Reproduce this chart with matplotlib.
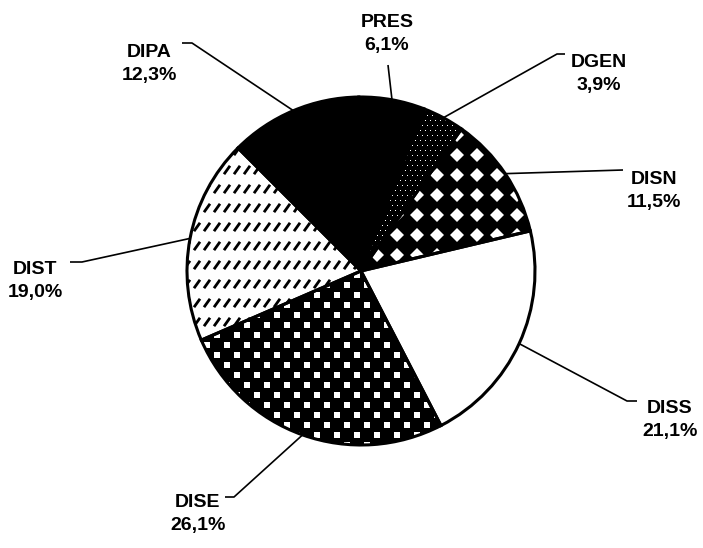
import numpy as np
import matplotlib.pyplot as plt
from matplotlib.collections import LineCollection

# %% data

labels = ['DIPA', 'PRES', 'DGEN', 'DISN', 'DISS', 'DISE', 'DIST']
shares = [12.3, 6.1, 3.9, 11.5, 21.1, 26.1, 19.0]

# fill of each slice: base colour + texture drawn on top
base_colors = ['black', 'black', 'black', 'black', 'white', 'black', 'white']
textures = [None, None, 'dots', 'diamonds', None, 'squares', 'dashes']

# label block centre and leader line bends, in pixels (y down)
label_xy = {'DIPA': (149, 64), 'PRES': (387, 34), 'DGEN': (599, 74),
            'DISN': (654, 191), 'DISS': (670, 420), 'DISE': (198, 514),
            'DIST': (35, 281)}
leader_pts = {'DIPA': [(192, 43), (182, 43)], 'PRES': [(388, 65)],
              'DGEN': [(557, 54), (565, 54)], 'DISN': [(623, 170)],
              'DISS': [(627, 401), (637, 401)], 'DISE': [(234, 497), (225, 497)],
              'DIST': [(82, 262), (70, 262)]}

# %% figure

W, H, dpi = 703, 548, 100
fig = plt.figure(figsize=(W / dpi, H / dpi), dpi=dpi)
ax = fig.add_axes([0, 0, 1, 1])

cx, cy, R = 361, H - 271, 174

wedges, _ = ax.pie(shares, startangle=135, counterclock=False, center=(cx, cy),
                   radius=R, colors=base_colors, wedgeprops=dict(linewidth=0))

px = 72 / dpi  # pixels -> points


def lattice(step_x, step_y, offset_rows=False):
    xs, ys = [], []
    for i, y in enumerate(np.arange(cy - R - 10, cy + R + 10, step_y)):
        shift = step_x / 2 if (offset_rows and i % 2) else 0
        x = np.arange(cx - R - 10, cx + R + 10, step_x) + shift
        xs.append(x)
        ys.append(np.full_like(x, y))
    return np.concatenate(xs), np.concatenate(ys)


for w, tex in zip(wedges, textures):
    if tex is None:
        continue
    if tex == 'diamonds':
        x, y = lattice(20, 20)
        art, = ax.plot(x, y, ls='none', marker='D', ms=10.5 * px, mfc='white', mew=0)
    elif tex == 'squares':
        x, y = lattice(20, 10, offset_rows=True)
        art, = ax.plot(x, y, ls='none', marker='s', ms=6.5 * px, mfc='white', mew=0)
    elif tex == 'dots':
        x, y = lattice(5, 5, offset_rows=True)
        art, = ax.plot(x, y, ls='none', marker='s', ms=1.0 * px, mfc='white', mew=0)
    elif tex == 'dashes':
        x, y = lattice(10, 19)
        dx, dy = 3.0, 4.2
        segs = [[(a - dx, b - dy), (a + dx, b + dy)] for a, b in zip(x, y)]
        art = LineCollection(segs, colors='black', linewidths=2.8 * px)
        ax.add_collection(art)
    art.set_clip_path(w)
    art.set_zorder(2)

# outlines on top
outline, _ = ax.pie(shares, startangle=135, counterclock=False, center=(cx, cy),
                    radius=R, colors=['none'] * len(shares),
                    wedgeprops=dict(linewidth=2.2, edgecolor='black'))
for w in outline:
    w.set_zorder(3)
ax.set_xlim(0, W)
ax.set_ylim(0, H)
ax.set_aspect('equal')
ax.axis('off')

# %% labels and leader lines

for w, lab, val in zip(wedges, labels, shares):
    mid = np.deg2rad((w.theta1 + w.theta2) / 2)
    ax0 = cx + R * np.cos(mid)
    ay0 = cy + R * np.sin(mid)
    pts = [(ax0, ay0)] + [(p, H - q) for p, q in leader_pts[lab]]
    xs, ys = zip(*pts)
    ax.plot(xs, ys, color='black', lw=1.2, zorder=4, solid_capstyle='butt')

    tx, ty = label_xy[lab]
    txt = lab + '\n' + f'{val:.1f}'.replace('.', ',') + '%'
    ax.text(tx, H - ty, txt, ha='center', va='center', fontsize=14,
            fontweight='bold', family='Liberation Sans', linespacing=1.5)

plt.savefig('out.png', dpi=dpi)
